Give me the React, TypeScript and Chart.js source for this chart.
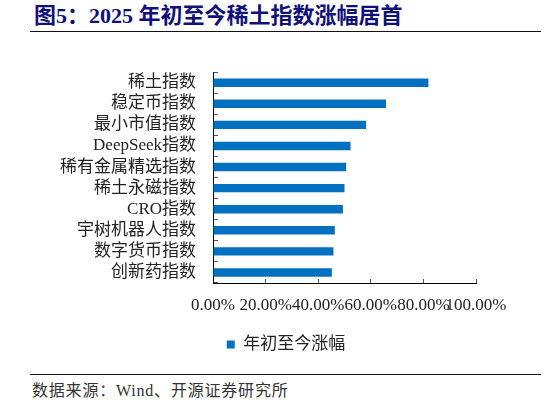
import React, { useEffect, useRef } from 'react';
import Chart from 'chart.js/auto';

// index names, top to bottom
const categories = [
  '稀土指数',
  '稳定币指数',
  '最小市值指数',
  'DeepSeek指数',
  '稀有金属精选指数',
  '稀土永磁指数',
  'CRO指数',
  '宇树机器人指数',
  '数字货币指数',
  '创新药指数',
];
// year-to-date gain, %
const ytdGain = [81.9, 65.8, 58.2, 52.3, 50.6, 50.0, 49.4, 46.3, 45.8, 45.2];
const seriesLabel = '年初至今涨幅';
const xMin = 0;
const xMax = 100;
const xStep = 20;

const titleText = '图5：2025 年初至今稀土指数涨幅居首';
const sourceText = '数据来源：Wind、开源证券研究所';

const FONT = "'Liberation Serif', 'Noto Sans CJK SC', serif";

// the legend sits a bit right of the canvas centre in the original
const legendShift = {
  id: 'legendShift',
  afterLayout(chart: any) {
    const lg = chart.legend;
    if (lg) {
      lg.left += 48;
      lg.right += 48;
    }
  },
};

const GainChart: React.FC = () => {
  const canvasRef = useRef<HTMLCanvasElement>(null);
  const chartRef = useRef<Chart | null>(null);

  useEffect(() => {
    if (!canvasRef.current) return;
    if (chartRef.current) chartRef.current.destroy();
    const ctx = canvasRef.current.getContext('2d');
    if (!ctx) return;

    chartRef.current = new Chart(ctx, {
      type: 'bar',
      data: {
        labels: categories,
        datasets: [
          {
            label: seriesLabel,
            data: ytdGain,
            backgroundColor: '#0070c0',
            barPercentage: 0.4,
            categoryPercentage: 1,
          },
        ],
      },
      options: {
        indexAxis: 'y',
        animation: false,
        responsive: true,
        maintainAspectRatio: false,
        layout: { padding: { left: 0, right: 70, top: 16, bottom: 7 } },
        plugins: {
          legend: {
            position: 'bottom',
            labels: {
              boxWidth: 8,
              boxHeight: 8,
              padding: 10,
              color: '#222',
              font: { family: FONT, size: 17 },
            },
          },
          tooltip: { enabled: false },
        },
        scales: {
          x: {
            min: xMin,
            max: xMax,
            ticks: {
              stepSize: xStep,
              autoSkip: false,
              maxRotation: 0,
              minRotation: 0,
              padding: 16,
              color: '#222',
              font: { family: FONT, size: 17 },
              callback: (v: any) => Number(v).toFixed(2) + '%',
            },
            grid: { drawOnChartArea: false, tickLength: -4, color: '#555' },
            border: { color: '#000', width: 1 },
            afterFit: (axis: any) => {
              axis.height = 43;
            },
          },
          y: {
            ticks: {
              autoSkip: false,
              padding: 22,
              color: '#222',
              font: { family: FONT, size: 17 },
            },
            grid: { drawOnChartArea: false, tickLength: -5, color: '#555', offset: true },
            border: { color: '#000', width: 1 },
            afterFit: (axis: any) => {
              axis.width = 213;
            },
          },
        },
      },
      plugins: [legendShift],
    });

    return () => {
      if (chartRef.current) {
        chartRef.current.destroy();
        chartRef.current = null;
      }
    };
  }, []);

  return (
    <div style={{ position: 'absolute', left: 0, top: 40, width: 546, height: 330 }}>
      <canvas ref={canvasRef} />
    </div>
  );
};

export default function App() {
  return (
    <div
      style={{
        position: 'absolute',
        left: 0,
        top: 0,
        width: 546,
        height: 405,
        background: '#fff',
        overflow: 'hidden',
      }}
    >
      <div
        style={{
          position: 'absolute',
          left: 34,
          top: 3,
          fontFamily: FONT,
          fontSize: 22,
          lineHeight: '26px',
          fontWeight: 'bold',
          color: '#10107a',
          whiteSpace: 'nowrap',
        }}
      >
        {titleText}
      </div>
      <div style={{ position: 'absolute', left: 30, top: 31, width: 511, height: 1, background: '#111' }} />
      <GainChart />
      <div style={{ position: 'absolute', left: 30, top: 374, width: 511, height: 1, background: '#111' }} />
      <div
        style={{
          position: 'absolute',
          left: 32,
          top: 381,
          fontFamily: FONT,
          fontSize: 16,
          lineHeight: '20px',
          letterSpacing: '0.8px',
          color: '#333',
          whiteSpace: 'nowrap',
        }}
      >
        {sourceText}
      </div>
    </div>
  );
}
